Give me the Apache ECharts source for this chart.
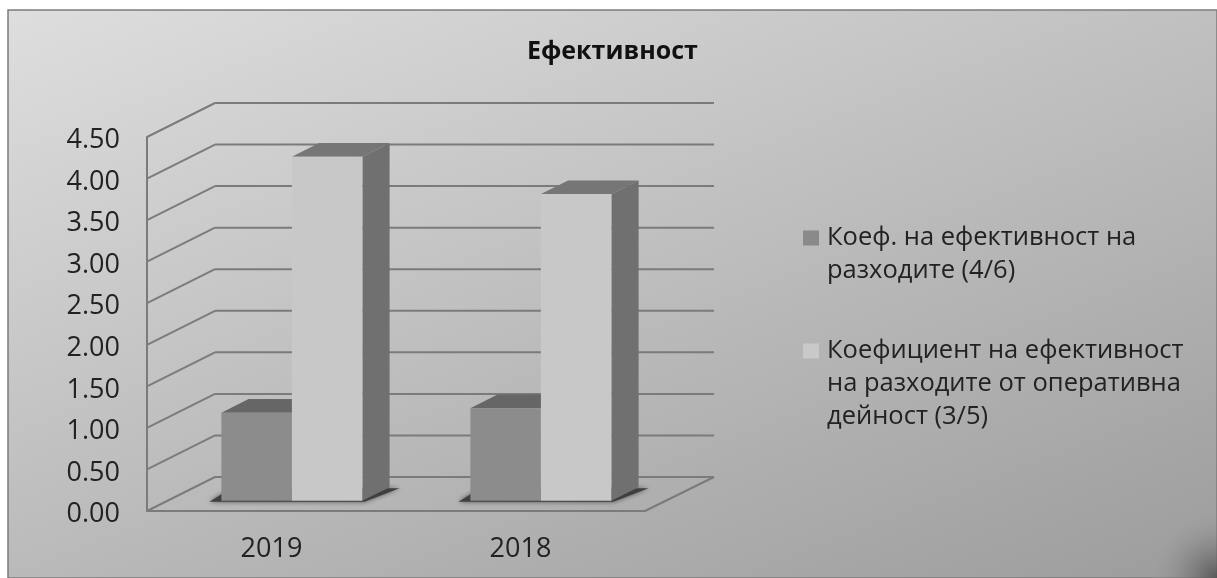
<!DOCTYPE html>
<html><head><meta charset="utf-8">
<style>html,body{margin:0;padding:0;background:#fff}#c{width:1217px;height:578px}</style>
<script src="https://cdn.jsdelivr.net/npm/echarts@6/dist/echarts.min.js"></script>
</head><body><div id="c"></div>
<script>
const title = 'Ефективност';
const categories = ['2019', '2018'];
const seriesDarkName = 'Коеф. на ефективност на\nразходите (4/6)';
const seriesLightName = 'Коефициент на ефективност\nна разходите от оперативна\nдейност (3/5)';
const seriesDark = [1.06, 1.115];
const seriesLight = [4.14, 3.69];
const tickValues = [0, 0.5, 1, 1.5, 2, 2.5, 3, 3.5, 4, 4.5];

const DX = 68, DY = -34;              // wall depth in px
const BAR_W = 70.5;
const GRID_COL = '#7b7b7b';

function poly(points, fill, extra) {
  return Object.assign({ type: 'polygon', shape: { points }, style: { fill }, silent: true }, extra || {});
}
function wallItem(params, api) {
  const v = api.value(1);
  const cs = params.coordSys;
  const p = api.coord([0, v]);
  const x0 = cs.x, x1 = cs.x + cs.width, y = p[1];
  const line = (a, b, c, d) => ({ type: 'line', shape: { x1: a, y1: b, x2: c, y2: d }, silent: true,
    style: { stroke: GRID_COL, lineWidth: 2 } });
  const kids = [line(x0, y, x0 + DX, y + DY), line(x0 + DX, y + DY, x1 + DX + 1, y + DY)];
  if (v === 0) kids.push(line(x1, y, x1 + DX + 1, y + DY));
  return { type: 'group', children: kids };
}
function barItem(slot, front, side, top) {
  return function (params, api) {
    const i = api.value(0), v = api.value(1);
    const c = api.coord([i, v]), b = api.coord([i, 0]);
    const f = 0.3;
    const x = c[0] + DX * f + (slot - 1) * BAR_W, w = BAR_W;
    const yb = b[1] + DY * f, yt = c[1] + DY * f;
    const dx = DX * 0.4, dy = DY * 0.4;
    const kids = [];
    if (slot === 0) {
      kids.push(poly([[x - 12, yb + 1], [x + w * 2 + 2, yb + 1], [x + w * 2 + dx + 10, yb + dy + 1], [x + 10, yb + dy + 1]],
        '#3f3f3f', { style: { fill: '#3f3f3f', shadowBlur: 5, shadowColor: 'rgba(40,40,40,0.7)' } }));
    }
    kids.push(poly([[x + w, yt], [x + w + dx, yt + dy], [x + w + dx, yb + dy], [x + w, yb]], side));
    kids.push(poly([[x, yt], [x + dx, yt + dy], [x + w + dx, yt + dy], [x + w, yt]], top));
    kids.push({ type: 'rect', shape: { x, y: yt, width: w, height: yb - yt }, style: { fill: front }, silent: true });
    return { type: 'group', children: kids };
  };
}
const bg = new echarts.graphic.LinearGradient(8, 10, 354, 910, [
  { offset: 0, color: '#dedede' }, { offset: 1, color: '#9c9c9c' }
], true);
const corner = new echarts.graphic.RadialGradient(1, 1, 1, [
  { offset: 0, color: 'rgba(85,85,85,0.95)' }, { offset: 0.45, color: 'rgba(110,110,110,0.5)' }, { offset: 1, color: 'rgba(150,150,150,0)' }
]);
const legendIcon = h => `path://M0 0H16V15H0Z M0 ${h} L19 ${h}`;
const legendText = { fontFamily: 'Open Sans', fontSize: 25.5, color: '#222', lineHeight: 33 };

const chart = echarts.init(document.getElementById('c'), null, { renderer: 'canvas', width: 1217, height: 578 });
chart.setOption({
  animation: false,
  backgroundColor: '#ffffff',
  title: { text: title, left: 527, top: 39, padding: 0,
    textStyle: { fontFamily: 'Open Sans', fontSize: 25, fontWeight: 'bold', color: '#111' } },
  graphic: [
    { type: 'rect', z: -10, silent: true, shape: { x: 8, y: 10, width: 1209, height: 568 },
      style: { fill: bg, stroke: '#7c7c7c', lineWidth: 1.5 } },
    { type: 'rect', z: -9, silent: true, shape: { x: 1127, y: 513, width: 90, height: 65 }, style: { fill: corner } }
  ],
  legend: [
    { data: [{ name: seriesDarkName, icon: legendIcon(48) }], left: 803, top: 221.5, orient: 'vertical', padding: 0,
      itemWidth: 19, itemHeight: 48, itemGap: 0, textStyle: legendText, selectedMode: false },
    { data: [{ name: seriesLightName, icon: legendIcon(81) }], left: 803, top: 334.5, orient: 'vertical', padding: 0,
      itemWidth: 19, itemHeight: 81, itemGap: 0, textStyle: legendText, selectedMode: false }
  ],
  grid: { left: 147, right: 572, top: 137, bottom: 67, containLabel: false },
  xAxis: { type: 'category', data: categories, boundaryGap: true,
    axisLine: { lineStyle: { color: GRID_COL, width: 2 } }, axisTick: { show: false },
    axisLabel: { margin: 25, fontFamily: 'Open Sans', fontSize: 27, color: '#222' } },
  yAxis: { type: 'value', min: 0, max: 4.5, interval: 0.5, splitLine: { show: false },
    axisLine: { show: true, lineStyle: { color: GRID_COL, width: 2 } }, axisTick: { show: false },
    axisLabel: { margin: 27, formatter: v => '{a|' + v.toFixed(2) + '}',
      rich: { a: { fontFamily: 'Open Sans', fontSize: 27, color: '#222', padding: [7, 0, 0, 0] } } } },
  series: [
    { type: 'custom', name: 'walls', renderItem: wallItem, z: 1, silent: true,
      data: tickValues.map(v => [0, v]), encode: { x: 0, y: 1 } },
    { type: 'custom', name: seriesDarkName, z: 3, silent: true, itemStyle: { color: '#8a8a8a' },
      renderItem: barItem(0, '#8c8c8c', '#6d6d6d', '#666666'),
      data: seriesDark.map((v, i) => [i, v]), encode: { x: 0, y: 1 } },
    { type: 'custom', name: seriesLightName, z: 4, silent: true, itemStyle: { color: '#c9c9c9' },
      renderItem: barItem(1, '#c8c8c8', '#707070', '#767676'),
      data: seriesLight.map((v, i) => [i, v]), encode: { x: 0, y: 1 } }
  ]
});
</script></body></html>
